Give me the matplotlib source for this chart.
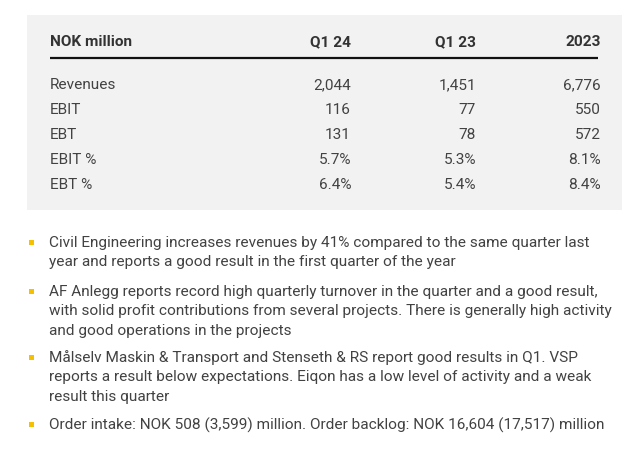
import matplotlib
matplotlib.use("Agg")
import matplotlib.pyplot as plt
from matplotlib.patches import Rectangle

header = ["NOK million", "Q1 24", "Q1 23", "2023"]
row_labels = ["Revenues", "EBIT", "EBT", "EBIT %", "EBT %"]
q1_24 = ["2,044", "116", "131", "5.7%", "6.4%"]
q1_23 = ["1,451", "77", "78", "5.3%", "5.4%"]
y2023 = ["6,776", "550", "572", "8.1%", "8.4%"]

bullets = [
    ["Civil Engineering increases revenues by 41% compared to the same quarter last",
     "year and reports a good result in the first quarter of the year"],
    ["AF Anlegg reports record high quarterly turnover in the quarter and a good result,",
     "with solid profit contributions from several projects. There is generally high activity",
     "and good operations in the projects"],
    ["Målselv Maskin & Transport and Stenseth & RS report good results in Q1. VSP",
     "reports a result below expectations. Eiqon has a low level of activity and a weak",
     "result this quarter"],
    ["Order intake: NOK 508 (3,599) million. Order backlog: NOK 16,604 (17,517) million"],
]

plt.rcParams['font.family'] = ['Roboto', 'DejaVu Sans']
W, H = 640, 454
fig = plt.figure(figsize=(W / 100, H / 100), dpi=100)
ax = fig.add_axes([0, 0, 1, 1])
ax.set_xlim(0, W)
ax.set_ylim(H, 0)
ax.axis('off')

text_col = '#424242'
fs = 11.12

# gray box
ax.add_patch(Rectangle((27, 15), 595, 195, facecolor='#f2f2f2', edgecolor='none'))

col_x = [50, 351, 476, 601]
hy = 42
ax.text(col_x[0], hy, header[0], ha='left', va='center', fontsize=fs, fontweight='bold', color='#333333')
for x, h in zip(col_x[1:], header[1:]):
    ax.text(x, hy, h, ha='right', va='center', fontsize=fs, fontweight='bold', color='#333333')
ax.plot([50, 598], [58, 58], color='#111111', lw=1.6, solid_capstyle='butt')

row_y = [85, 110, 135, 160, 185]
for i, y in enumerate(row_y):
    ax.text(col_x[0], y, row_labels[i], ha='left', va='center', fontsize=fs, color=text_col)
    ax.text(col_x[1], y, q1_24[i], ha='right', va='center', fontsize=fs, color=text_col)
    ax.text(col_x[2], y, q1_23[i], ha='right', va='center', fontsize=fs, color=text_col)
    ax.text(col_x[3], y, y2023[i], ha='right', va='center', fontsize=fs, color=text_col)

bullet_start = [243, 292, 358, 425]
line_h = 19.3
for start, lines in zip(bullet_start, bullets):
    ax.add_patch(Rectangle((29, start - 3), 5, 4.5, facecolor='#f5c000', edgecolor='none'))
    for j, ln in enumerate(lines):
        ax.text(49, start + j * line_h, ln, ha='left', va='center', fontsize=fs, color=text_col)

fig.savefig('out.png', dpi=100, facecolor='white')
